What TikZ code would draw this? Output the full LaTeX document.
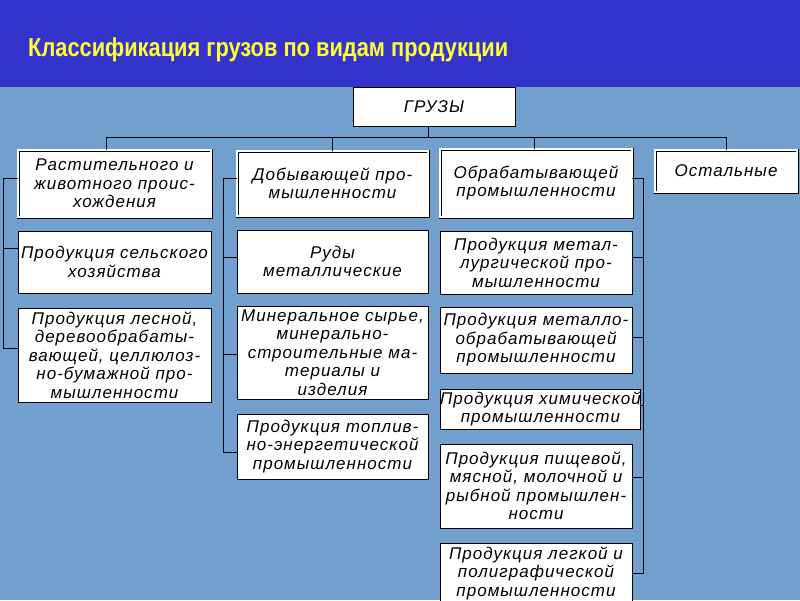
\documentclass[tikz,border=0pt]{standalone}
\usepackage{fontspec}
\usepackage{graphicx}
\setmainfont{Liberation Sans}
\newfontfamily\boxfont[LetterSpace=6]{Liberation Sans}
\newfontfamily\titlefont{Liberation Sans}
\definecolor{bandblue}{HTML}{3333CC}
\definecolor{lightbg}{HTML}{72A0CE}
\definecolor{titleyellow}{HTML}{FFFF33}
\begin{document}
\begin{tikzpicture}[x=1pt,y=-1pt,
  box/.style={draw=black, line width=0.9pt, fill=white, anchor=north west,
    inner sep=0pt, outer sep=0pt, align=center,
    font={\boxfont\itshape\fontsize{17}{18.5}\selectfont}},
  dbox/.style={box, double=white, double distance=1.6pt, line width=0.7pt},
  wire/.style={draw=black, line width=0.9pt}]
\useasboundingbox (0,0) rectangle (800,600);
\fill[lightbg] (0,87) rectangle (800,600);
\fill[bandblue] (0,0) rectangle (800,87);
\node[anchor=base west, text=titleyellow, inner sep=0pt] (title) at (28,56)
  {\resizebox{480pt}{\height}{\titlefont\bfseries\fontsize{26}{30}\selectfont Классификация грузов по видам продукции}};

% top
\node[box, minimum width=162pt, minimum height=39pt] (gruz) at (353,87) {ГРУЗЫ};

% column 1
\node[dbox, minimum width=193pt, minimum height=67pt] (h1) at (18,150) {Растительного и\\животного проис-\\хождения};
\node[box, minimum width=193pt, minimum height=62pt] (c1a) at (18,231) {Продукция сельского\\хозяйства};
\node[box, minimum width=193pt, minimum height=94pt] (c1b) at (18,308) {Продукция лесной,\\деревообрабаты-\\вающей, целлюлоз-\\но-бумажной про-\\мышленности};

% column 2
\node[dbox, minimum width=191pt, minimum height=65pt] (h2) at (237,151) {Добывающей про-\\мышленности};
\node[box, minimum width=191pt, minimum height=63pt] (c2a) at (237,230) {Руды\\металлические};
\node[box, minimum width=191pt, minimum height=93pt] (c2b) at (237,306) {Минеральное сырье,\\минерально-\\строительные ма-\\териалы и\\изделия};
\node[box, minimum width=191pt, minimum height=65pt] (c2c) at (237,414) {Продукция топлив-\\но-энергетической\\промышленности};

% column 3
\node[dbox, minimum width=192pt, minimum height=68pt] (h3) at (440,149) {Обрабатывающей\\промышленности};
\node[box, minimum width=192pt, minimum height=63pt] (c3a) at (440,231) {Продукция метал-\\лургической про-\\мышленности};
\node[box, minimum width=192pt, minimum height=66pt] (c3b) at (440,307) {Продукция металло-\\обрабатывающей\\промышленности};
\node[box, minimum width=192pt, minimum height=40pt] (c3c) at (440,389) {Продукция химической\\промышленности};
\node[box, minimum width=192pt, minimum height=84pt] (c3d) at (440,444) {Продукция пищевой,\\мясной, молочной и\\рыбной промышлен-\\ности};
\node[box, minimum width=192pt, minimum height=60pt] (c3e) at (440,543) {Продукция легкой и\\полиграфической\\промышленности};

% column 4
\node[dbox, minimum width=142pt, minimum height=42pt] (h4) at (655,150) {Остальные};

% connectors
\coordinate (bus) at (0,137);
\coordinate (l1) at (3,0);
\coordinate (l2) at (223,0);
\coordinate (r3) at (643,0);

\draw[wire] ([xshift=-6pt]gruz.south) -- ([xshift=-6pt]gruz.south |- bus);
\draw[wire] ([xshift=-8pt]h1.north) -- ([xshift=-8pt]h1.north |- bus) -- (h4.north |- bus) -- (h4.north);
\draw[wire] (h2.north) -- (h2.north |- bus);
\draw[wire] ([xshift=-2pt]h3.north) -- ([xshift=-2pt]h3.north |- bus);

\draw[wire] ([yshift=5pt]h1.west) -- ([yshift=5pt]h1.west -| l1) |- ([yshift=7pt]c1b.west);
\draw[wire] ([yshift=14pt]c1a.west) -- ([yshift=14pt]c1a.west -| l1);

\draw[wire] ([yshift=5pt]h2.west) -- ([yshift=5pt]h2.west -| l2) |- ([yshift=-6pt]c2c.west);
\draw[wire] ([yshift=4pt]c2a.west) -- ([yshift=4pt]c2a.west -| l2);
\draw[wire] ([yshift=-2pt]c2b.west) -- ([yshift=-2pt]c2b.west -| l2);

\draw[wire] ([yshift=5pt]h3.east) -- ([yshift=5pt]h3.east -| r3) |- (c3e.east);
\draw[wire] ([yshift=5pt]c3a.east) -- ([yshift=5pt]c3a.east -| r3);
\draw[wire] ([yshift=3pt]c3b.east) -- ([yshift=3pt]c3b.east -| r3);
\draw[wire] ([yshift=4pt]c3c.east) -- ([yshift=4pt]c3c.east -| r3);
\draw[wire] ([yshift=9pt]c3d.east) -- ([yshift=9pt]c3d.east -| r3);
\end{tikzpicture}
\end{document}
